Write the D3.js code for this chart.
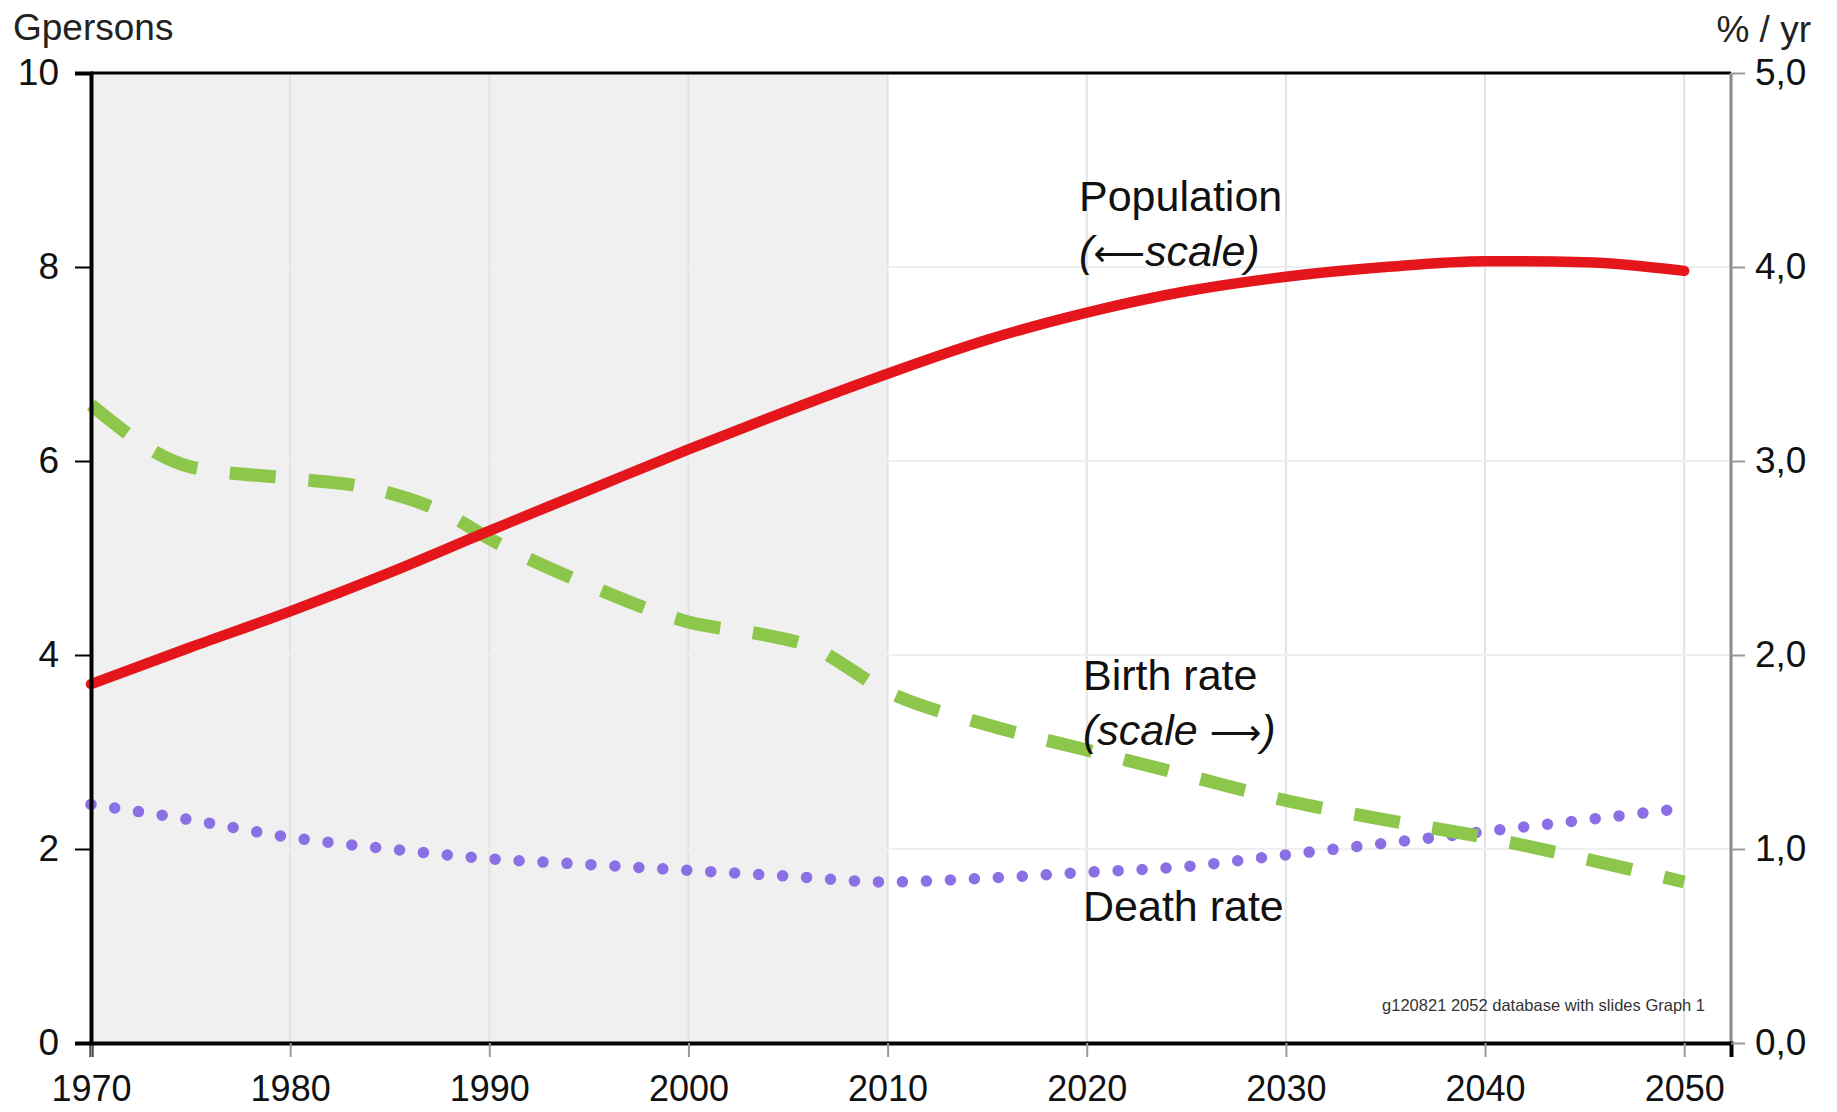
<!DOCTYPE html>
<html>
<head>
<meta charset="utf-8">
<script src="https://cdn.jsdelivr.net/npm/d3@7"></script>
<style>
  body { margin: 0; background: #fff; }
  svg { display: block; }
</style>
</head>
<body>
<div id="chart"></div>
<script>
// Data
const years = [1970, 1975, 1980, 1985, 1990, 1995, 2000, 2005, 2010, 2015, 2020, 2025, 2030, 2035, 2040, 2045, 2050];
const population = [3.70, 4.08, 4.45, 4.85, 5.28, 5.70, 6.12, 6.52, 6.90, 7.25, 7.53, 7.75, 7.90, 8.00, 8.06, 8.05, 7.96]; // Gpersons
const birthYears = [1970, 1975, 1980, 1984, 1988, 1990, 1995, 2000, 2004, 2006, 2010, 2015, 2020, 2025, 2030, 2035, 2040, 2045, 2050];
const birthRate = [3.29, 2.97, 2.91, 2.86, 2.72, 2.60, 2.36, 2.17, 2.10, 2.05, 1.81, 1.64, 1.51, 1.38, 1.25, 1.15, 1.06, 0.95, 0.83]; // %/yr
const deathRate = [1.23, 1.15, 1.06, 1.00, 0.95, 0.92, 0.89, 0.86, 0.83, 0.85, 0.88, 0.91, 0.97, 1.03, 1.09, 1.15, 1.21]; // %/yr
const xTicks = [1970, 1980, 1990, 2000, 2010, 2020, 2030, 2040, 2050];
const leftTicks = [0, 2, 4, 6, 8, 10];
const rightTicks = [0, 1, 2, 3, 4, 5];

const totalW = 1837, totalH = 1112;
const margin = { top: 73, right: 106, bottom: 69, left: 91 };
const W = totalW - margin.left - margin.right;
const H = totalH - margin.top - margin.bottom;
const font = '"Liberation Sans", Arial, sans-serif';

const svg = d3.select('#chart').append('svg')
    .attr('width', totalW).attr('height', totalH)
    .style('background', '#fff');
const g = svg.append('g').attr('transform', `translate(${margin.left},${margin.top})`);

const x = d3.scaleLinear().domain([1970, 2052.35]).range([0, W]);
const yL = d3.scaleLinear().domain([0, 10]).range([H, 0]);
const yR = d3.scaleLinear().domain([0, 5]).range([H, 0]);

// Historical shaded area
g.append('rect').attr('x', x(1970)).attr('y', 0)
    .attr('width', x(2010) - x(1970)).attr('height', H)
    .attr('fill', '#f0f0f0');

// Grid
g.append('g').selectAll('line').data(xTicks.slice(1)).join('line')
    .attr('x1', d => x(d)).attr('x2', d => x(d)).attr('y1', 0).attr('y2', H)
    .attr('stroke', '#e2e2e2').attr('stroke-width', 2);
g.append('g').selectAll('line').data(leftTicks.slice(1, -1)).join('line')
    .attr('x1', 0).attr('x2', W).attr('y1', d => yL(d)).attr('y2', d => yL(d))
    .attr('stroke', '#efefef').attr('stroke-width', 2);

// Series
const popLine = d3.line().x((d, i) => x(years[i])).y(d => yL(d)).curve(d3.curveMonotoneX);
const birthLine = d3.line().x((d, i) => x(birthYears[i])).y(d => yR(d)).curve(d3.curveMonotoneX);
const deathLine = d3.line().x((d, i) => x(years[i])).y(d => yR(d)).curve(d3.curveMonotoneX);

g.append('path').datum(deathRate).attr('d', deathLine)
    .attr('fill', 'none').attr('stroke', '#8a70e4').attr('stroke-width', 11.5)
    .attr('stroke-linecap', 'round').attr('stroke-dasharray', '0 24');
g.append('path').datum(birthRate).attr('d', birthLine)
    .attr('fill', 'none').attr('stroke', '#8cc64a').attr('stroke-width', 13)
    .attr('stroke-dasharray', '46 33');
g.append('path').datum(population).attr('d', popLine)
    .attr('fill', 'none').attr('stroke', '#e4161c').attr('stroke-width', 10.5)
    .attr('stroke-linecap', 'round');

// Frame
g.append('line').attr('x1', 0).attr('x2', W).attr('y1', 0).attr('y2', 0)
    .attr('stroke', '#000').attr('stroke-width', 3);
g.append('line').attr('x1', W).attr('x2', W).attr('y1', 0).attr('y2', H)
    .attr('stroke', '#8a8a8a').attr('stroke-width', 3);

// Axes
g.append('g').attr('transform', `translate(0,${H})`)
    .call(d3.axisBottom(x).tickValues(xTicks).tickFormat(d3.format('d')).tickSize(14).tickPadding(18))
    .call(ax => ax.select('.domain').attr('stroke', '#000').attr('stroke-width', 4))
    .call(ax => ax.selectAll('.tick line').attr('stroke', '#999').attr('stroke-width', 2))
    .call(ax => ax.selectAll('text').attr('fill', '#111').attr('font-size', 36).attr('font-family', font));

g.append('g')
    .call(d3.axisLeft(yL).tickValues(leftTicks).tickFormat(d3.format('d')).tickSize(16).tickPadding(16))
    .call(ax => ax.select('.domain').attr('stroke', '#000').attr('stroke-width', 4))
    .call(ax => ax.selectAll('.tick line').attr('stroke', '#000').attr('stroke-width', 2))
    .call(ax => ax.selectAll('text').attr('fill', '#111').attr('font-size', 37).attr('font-family', font));

g.append('g').attr('transform', `translate(${W},0)`)
    .call(d3.axisRight(yR).tickValues(rightTicks).tickFormat(d => d.toFixed(1).replace('.', ',')).tickSize(14).tickPadding(10))
    .call(ax => ax.select('.domain').remove())
    .call(ax => ax.selectAll('.tick line').attr('stroke', '#999').attr('stroke-width', 2))
    .call(ax => ax.selectAll('text').attr('fill', '#111').attr('font-size', 37).attr('font-family', font));

// Axis titles
svg.append('text').attr('x', 13).attr('y', 40)
    .attr('font-size', 37).attr('font-family', font).attr('fill', '#222').text('Gpersons');
svg.append('text').attr('x', 1811).attr('y', 42).attr('text-anchor', 'end')
    .attr('font-size', 37).attr('font-family', font).attr('fill', '#222').text('% / yr');

// Series labels
const label = (tx, ty, parts) => {
    const t = g.append('text')
        .attr('x', tx - margin.left).attr('y', ty - margin.top)
        .attr('font-size', 43).attr('font-family', font).attr('fill', '#111');
    parts.forEach(([s, style, fam, size]) => t.append('tspan')
        .attr('font-style', style || 'normal')
        .attr('font-size', size || 43)
        .attr('font-family', fam || font).text(s));
};
label(1079, 211, [['Population']]);
label(1079, 266, [['(', 'italic'], ['⟵', 'normal', '"DejaVu Sans"', 36], ['scale)', 'italic']]);
label(1083, 690, [['Birth rate']]);
label(1083, 745, [['(scale ', 'italic'], ['⟶', 'normal', '"DejaVu Sans"', 36], [')', 'italic']]);
label(1083, 921, [['Death rate']]);

// Source note
g.append('text').attr('x', 1705 - margin.left).attr('y', 1011 - margin.top)
    .attr('text-anchor', 'end').attr('font-size', 16.5).attr('font-family', font)
    .attr('fill', '#333').text('g120821 2052 database with slides Graph 1');
</script>
</body>
</html>
